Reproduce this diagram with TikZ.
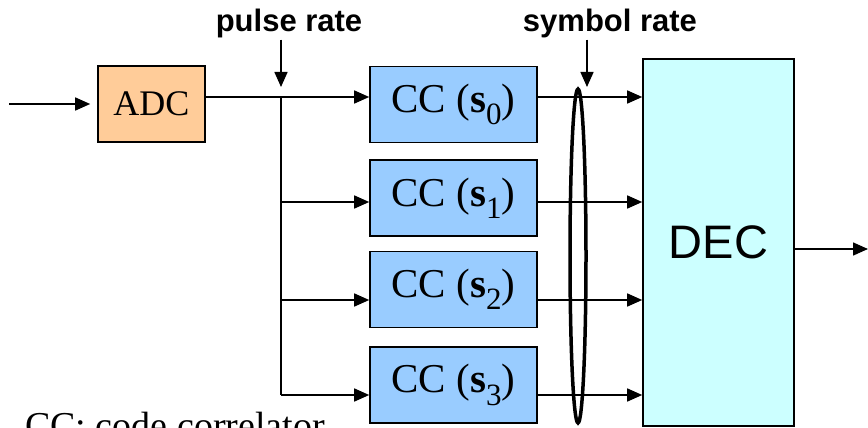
\documentclass[tikz,border=0pt]{standalone}
\usepackage{fontspec}
\setmainfont{Liberation Serif}
\newfontfamily\arialfont{Liberation Sans}
\usepackage{xcolor}
\usetikzlibrary{arrows.meta}

\definecolor{adcorange}{HTML}{FFCC99}
\definecolor{ccblue}{HTML}{99CCFF}
\definecolor{deccyan}{HTML}{CCFFFF}

\tikzset{
  blk/.style={draw=black, line width=1.6pt, inner sep=0pt},
  arr/.style={line width=1.5pt, -{Triangle[length=15pt,width=13pt]}},
  wire/.style={line width=1.5pt},
  ratelbl/.style={anchor=base, inner sep=1pt, font=\arialfont\bfseries\fontsize{31}{31}\selectfont},
  serif36/.style={font=\fontsize{36}{36}\selectfont},
  cctext/.style={font=\fontsize{41}{41}\selectfont}
}
\newcommand{\ccsub}[1]{CC (\textbf{s}\raisebox{-0.3em}{\fontsize{31}{31}\selectfont #1})}

\begin{document}
\begin{tikzpicture}[x=1pt,y=-1pt]
  \useasboundingbox (0,0) rectangle (868,428);
  \coordinate (in) at (9,104); \coordinate (out) at (868,249);
  \coordinate (tap0) at (281,97); \coordinate (tap1) at (281,202);
  \coordinate (tap2) at (281,300); \coordinate (tap3) at (281,395);
  \coordinate (prtip) at (281,87); \coordinate (srtip) at (587,87);
  \node[blk, fill=adcorange, minimum width=107pt, minimum height=76pt, serif36] (adc) at (151.5,104) {ADC};
  \node[blk, fill=ccblue, minimum width=167pt, minimum height=76pt, cctext] (cc0) at (453.5,104.5) {\ccsub{0}};
  \node[blk, fill=ccblue, minimum width=167pt, minimum height=76pt, cctext] (cc1) at (453.5,198) {\ccsub{1}};
  \node[blk, fill=ccblue, minimum width=167pt, minimum height=76pt, cctext] (cc2) at (453.5,289.5) {\ccsub{2}};
  \node[blk, fill=ccblue, minimum width=167pt, minimum height=76pt, cctext] (cc3) at (453.5,385) {\ccsub{3}};
  \node[blk, fill=deccyan, minimum width=151pt, minimum height=367pt, font=\arialfont\fontsize{47}{47}\selectfont] (dec) at (718.5,242.5) {DEC};
  \node[ratelbl] (pulse) at (289,32) {pulse rate};
  \node[ratelbl] (symbol) at (610,32) {symbol rate};
  \node[anchor=base west, inner sep=0pt, serif36, font=\fontsize{38}{38}\selectfont] (note) at (25,438) {CC: code correlator};
  \draw[arr, shorten >=7pt] (in) -- (adc.west);
  \draw[arr] (adc.east |- tap0) -- (cc0.west |- tap0);
  \draw[wire] (tap0) -- (tap3);
  \foreach \i in {1,2,3} \draw[arr] (tap\i) -- (cc\i.west |- tap\i);
  \foreach \i in {0,1,2,3} \draw[arr] (cc\i.east |- tap\i) -- (dec.west |- tap\i);
  \draw[line width=3.5pt] (578,256) ellipse (8 and 167);
  \draw[arr] (pulse.south -| prtip) -- (prtip);
  \draw[arr] (symbol.south -| srtip) -- (srtip);
  \draw[arr] (dec.east |- out) -- (out);
\end{tikzpicture}
\end{document}
